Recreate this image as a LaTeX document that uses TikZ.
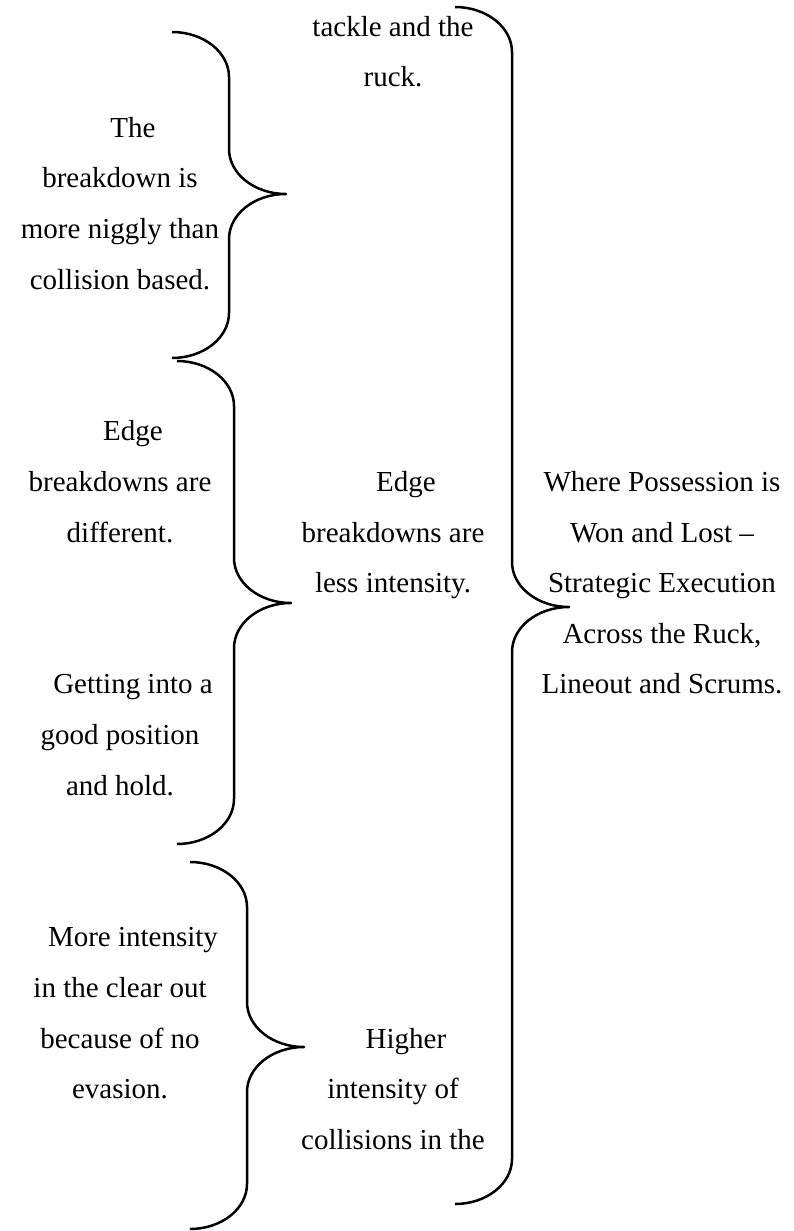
\documentclass[tikz,border=0pt]{standalone}
\usepackage{fontspec}
\setmainfont{Liberation Serif}

% Curly brace opening to the right.
% #1 name, #2 x of the spine, #3 top y, #4 y of the point, #5 bottom y
\newcommand\curlybrace[5]{%
  \coordinate (#1-top) at (#2-57,#3);
  \coordinate (#1-tip) at (#2+57,#4);
  \coordinate (#1-bot) at (#2-57,#5);
  \draw[brace line] (#1-top)
    .. controls (#2-25.5,#3) and (#2,#3+20.2) .. (#2,#3+45)
    -- (#2,#4-45)
    .. controls (#2,#4-20.2) and (#2+25.5,#4) .. (#1-tip)
    .. controls (#2+25.5,#4) and (#2,#4+20.2) .. (#2,#4+45)
    -- (#2,#5-45)
    .. controls (#2,#5-20.2) and (#2-25.5,#5) .. (#1-bot);}

\begin{document}
\begin{tikzpicture}[x=1pt,y=-1pt,
  label text/.style={align=center,anchor=base,inner sep=0pt,
    font=\fontsize{29pt}{50.6pt}\selectfont},
  brace line/.style={draw=black,line width=2.5pt,line join=round}]

\useasboundingbox[fill=white] (0,0) rectangle (794,1231);

% braces
\curlybrace{b1}{229}{32}{194}{358}
\curlybrace{b2}{234}{361}{603}{844}
\curlybrace{b3}{247}{862}{1047}{1229}
\curlybrace{big}{512}{7}{607}{1204}

% left column (positions give the baseline of the last line)
\node[label text] (l1) at (120,289)
  {\hspace*{26pt}The\\breakdown is\\more niggly than\\collision based.};
\node[label text] (l2) at (120,542)
  {\hspace*{26pt}Edge\\breakdowns are\\different.};
\node[label text] (l3) at (120,795)
  {\hspace*{26pt}Getting into a\\good position\\and hold.};
\node[label text] (l4) at (120,1098.6)
  {\hspace*{26pt}More intensity\\in the clear out\\because of no\\evasion.};

% middle column
\node[label text] (m1) at (393,86.6) {tackle and the\\ruck.};
\node[label text] (m2) at (393,592.6)
  {\hspace*{26pt}Edge\\breakdowns are\\less intensity.};
\node[label text] (m3) at (393,1149.2)
  {\hspace*{26pt}Higher\\intensity of\\collisions in the};

% right column
\node[label text] (r1) at (662,693.8)
  {Where Possession is\\Won and Lost –\\Strategic Execution\\Across the Ruck,\\Lineout and Scrums.};

\end{tikzpicture}
\end{document}
